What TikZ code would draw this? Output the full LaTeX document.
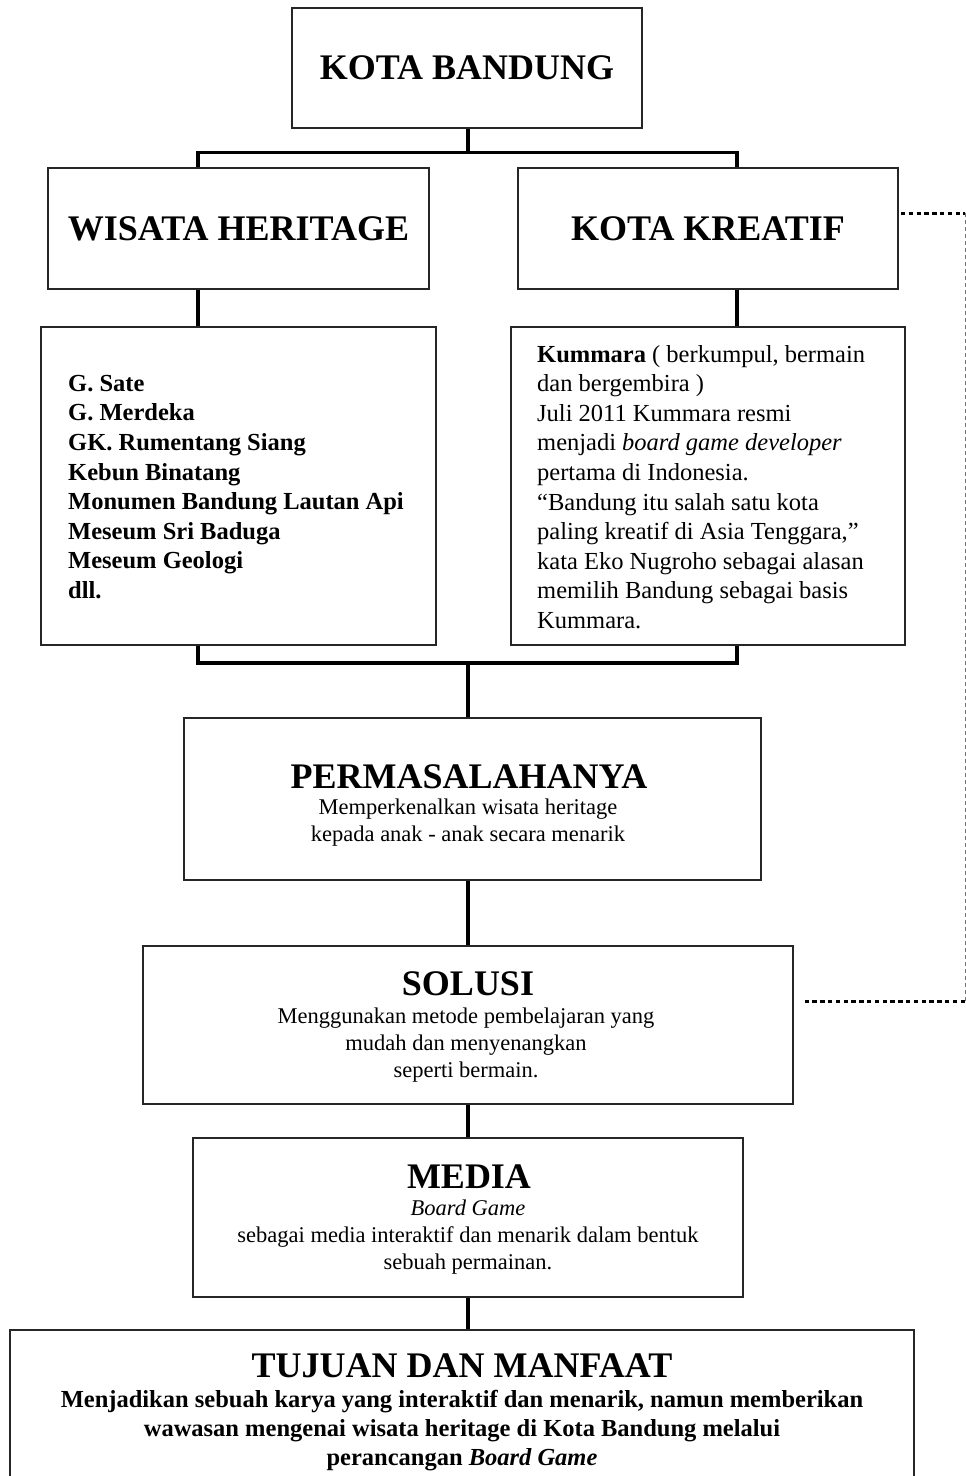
\documentclass[tikz,border=0pt]{standalone}
\usepackage{fontspec}
\setmainfont{Liberation Serif}
\usetikzlibrary{calc}
\begin{document}
\begin{tikzpicture}[x=1pt,y=-1pt,
  box/.style={draw=black!85, line width=1.8pt, inner sep=0pt},
  conn/.style={line width=3.5pt, black},
  head/.style={font=\fontsize{36}{40}\selectfont\bfseries, inner sep=0pt},
  sub/.style={font=\fontsize{22.5}{27}\selectfont, align=center, inner sep=0pt},
  list/.style={font=\fontsize{24.5}{29.6}\selectfont, align=left, inner sep=0pt, anchor=west},
  bsub/.style={font=\fontsize{24.5}{29}\selectfont\bfseries, align=center, inner sep=0pt},
  link/.style={line width=3pt, dash pattern=on 4.5pt off 3.3pt},
  linkv/.style={line width=1pt, black!55, dash pattern=on 4pt off 3pt}]
\useasboundingbox (0,0) rectangle (966,1476);
\fill[white] (0,0) rectangle (966,1476);

% boxes
\node[box, head, minimum width=350, minimum height=120] (kb) at (467,68) {KOTA BANDUNG};
\node[box, head, minimum width=381, minimum height=121] (wh) at (238.5,228.5) {WISATA HERITAGE};
\node[box, head, minimum width=380, minimum height=121] (kk) at (708,228.5) {KOTA KREATIF};
\node[box, minimum width=395, minimum height=318] (wl) at (238.5,486) {};
\node[box, minimum width=394, minimum height=318] (kl) at (708,486) {};
\node[box, minimum width=577, minimum height=162] (pm) at (472.5,799) {};
\node[box, minimum width=650, minimum height=158] (so) at (468,1025) {};
\node[box, minimum width=550, minimum height=159] (md) at (468,1217.5) {};
\node[box, minimum width=904, minimum height=170] (tj) at (462,1415) {};

% texts
\node[list, font=\fontsize{24.5}{29.6}\selectfont\bfseries] (wlt) at (68,487) {G. Sate\\ G. Merdeka\\ GK. Rumentang Siang\\ Kebun Binatang\\ Monumen Bandung Lautan Api\\ Meseum Sri Baduga\\ Meseum Geologi\\ dll.};
\node[list] (klt) at (537,487) {\textbf{Kummara} ( berkumpul, bermain\\ dan bergembira )\\ Juli 2011 Kummara resmi\\ menjadi \textit{board game developer}\\ pertama di Indonesia.\\ “Bandung itu salah satu kota\\ paling kreatif di Asia Tenggara,”\\ kata Eko Nugroho sebagai alasan\\ memilih Bandung sebagai basis\\ Kummara.};

\node[head] (pmh) at (469,777) {PERMASALAHANYA};
\node[sub] (pms) at (468,823) {Memperkenalkan wisata heritage\\ kepada anak - anak secara menarik};

\node[head] (soh) at (468,984) {SOLUSI};
\node[sub] (sos) at (466,1045) {Menggunakan metode pembelajaran yang\\ mudah dan menyenangkan\\ seperti bermain.};

\node[head] (mdh) at (469,1177) {MEDIA};
\node[sub] (mds) at (468,1237) {\textit{Board Game}\\ sebagai media interaktif dan menarik dalam bentuk\\ sebuah permainan.};

\node[head] (tjh) at (462,1366) {TUJUAN DAN MANFAAT};
\node[bsub] (tjs) at (462,1431) {Menjadikan sebuah karya yang interaktif dan menarik, namun memberikan\\ wawasan mengenai wisata heritage di Kota Bandung melalui\\ perancangan \textit{Board Game}};

% connectors
\coordinate (lx) at (198,0);
\coordinate (rx) at (737,0);
\coordinate (cx) at (468,0);
\coordinate (dx) at (965,0);
\coordinate (j1) at (468,152.5);
\coordinate (j2) at (468,663);
\draw[conn] (kb.south -| cx) -- (j1);
\draw[conn] (wh.north -| lx) |- (j1) -| (kk.north -| rx);
\draw[conn] (wh.south -| lx) -- (wl.north -| lx);
\draw[conn] (kk.south -| rx) -- (kl.north -| rx);
\draw[conn] (wl.south -| lx) |- (j2) -| (kl.south -| rx);
\draw[conn] (j2) -- (pm.north -| j2);
\draw[conn] (pm.south -| cx) -- (so.north -| cx);
\draw[conn] (so.south -| cx) -- (md.north -| cx);
\draw[conn] (md.south -| cx) -- (tj.north -| cx);

% dashed link
\coordinate (d1) at ($(kk.east)+(2,-15.5)$);
\coordinate (d2) at ($(so.east)+(8,-24)$);
\draw[link] (d1) -- (d1 -| dx);
\draw[linkv] (d1 -| dx) -- (d2 -| dx);
\draw[link] (d2 -| dx) -- (d2);
\end{tikzpicture}
\end{document}
